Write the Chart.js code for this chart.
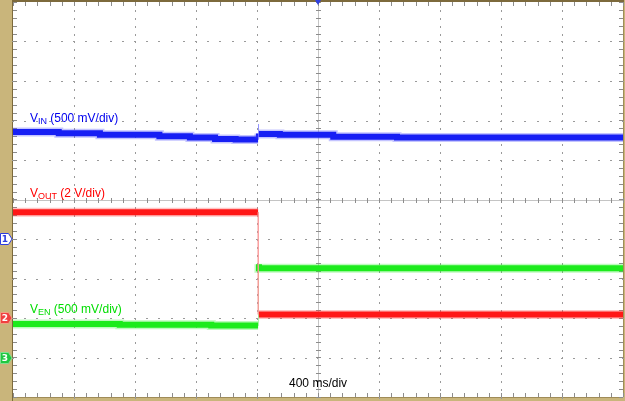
<!DOCTYPE html>
<html>
<head>
<meta charset="utf-8">
<script src="https://cdn.jsdelivr.net/npm/chart.js@4.4.1/dist/chart.umd.min.js"></script>
<style>
html,body{margin:0;padding:0;background:#fff;}
#wrap{width:625px;height:401px;position:relative;}
</style>
</head>
<body>
<div id="wrap"><canvas id="c" width="625" height="401"></canvas></div>
<script>
// Time axis in ms relative to trigger (400 ms/div, 10 divisions)
const timeTicks = [-2000,-1600,-1200,-800,-400,0,400,800,1200,1600,2000];
// Vertical position in screen divisions from centre (-5..5)
const divTicks = [-5,-4,-3,-2,-1,0,1,2,3,4,5];

// V_IN (blue), before and after the enable edge
const vinBeforeT = [-2000,-1700,-1430,-1040,-840,-675,-540,-393];
const vinBeforeV = [1.72,1.71,1.68,1.64,1.60,1.57,1.53,1.52];
const vinAfterT  = [-387,-250,100,518,930,2000];
const vinAfterV  = [1.67,1.66,1.64,1.59,1.57,1.57];
const vinEdgeT   = [-390,-390];
const vinEdgeV   = [1.51,1.91];

// V_OUT (red)
const voutBeforeT = [-2000,-393];
const voutBeforeV = [-0.32,-0.32];
const voutAfterT  = [-390,2000];
const voutAfterV  = [-2.91,-2.91];
const voutEdgeT   = [-392,-392];
const voutEdgeV   = [-0.32,-2.91];

// V_EN (green)
const venBeforeT = [-2000,-1300,-700,-500,-393];
const venBeforeV = [-3.12,-3.15,-3.17,-3.19,-3.19];
const venAfterT  = [-387,540,2000];
const venAfterV  = [-1.64,-1.74,-1.74];
const venEdgeT   = [-390,-390];
const venEdgeV   = [-3.20,-1.64];

// Channel ground markers (divisions) and trigger position (ms)
const chMarkers = [{ch:'1',div:-1},{ch:'2',div:-3},{ch:'3',div:-4}];
const triggerT = 0;

const labels = [
  {main:'V',sub:'IN',rest:' (500 mV/div)',color:'#0000ee',t:-1889,div:1.96},
  {main:'V',sub:'OUT',rest:' (2 V/div)',color:'#ff0000',t:-1889,div:0.07},
  {main:'V',sub:'EN',rest:' (500 mV/div)',color:'#00dd00',t:-1889,div:-2.88}
];
const timebaseLabel = '400 ms/div';

function pts(T,V){return T.map((t,i)=>({x:t,y:V[i]}));}

const frame = {
  id:'frame',
  beforeDraw(chart){
    const c=chart.ctx, a=chart.chartArea;
    c.save();
    c.fillStyle='#c9b57b';
    c.fillRect(0,0,chart.width,chart.height);
    c.fillStyle='#ffffff';
    c.fillRect(a.left,a.top,a.right-a.left,a.bottom-a.top);
    c.fillStyle='#7d6a3c';
    c.fillRect(a.left-1,0,1,chart.height);
    c.fillRect(a.left-1,0,a.right-a.left+2,2);
    c.fillStyle='#a08c58';
    c.fillRect(a.right,a.top,1,a.bottom-a.top);
    c.fillRect(a.left,a.bottom,a.right-a.left,1);
    c.restore();
  }
};

const grid = {
  id:'grid',
  beforeDatasetsDraw(chart){
    const c=chart.ctx, xs=chart.scales.x, ys=chart.scales.y, a=chart.chartArea;
    c.save();
    c.fillStyle='#9a9a9a';
    const xMin=timeTicks[0], xMax=timeTicks[timeTicks.length-1];
    const yMin=divTicks[0], yMax=divTicks[divTicks.length-1];
    for(const t of timeTicks){
      const px=Math.round(xs.getPixelForValue(t));
      if(t===xMin||t===xMax||t===0) continue;
      for(let d=yMin; d<=yMax+1e-6; d+=0.2){
        const py=Math.round(ys.getPixelForValue(d));
        c.fillRect(px,py,1,2);
      }
    }
    for(const d of divTicks){
      const py=Math.round(ys.getPixelForValue(d));
      if(d===yMin||d===yMax||d===0) continue;
      for(let t=xMin; t<=xMax+1e-6; t+=80){
        const px=Math.round(xs.getPixelForValue(t));
        c.fillRect(px-1,py,2,1);
      }
    }
    const cx=Math.round(xs.getPixelForValue(0)), cy=Math.round(ys.getPixelForValue(0));
    c.fillStyle='#c4c4c4';
    c.fillRect(cx,a.top,1,a.bottom-a.top);
    c.fillRect(a.left,cy,a.right-a.left,1);
    c.fillStyle='#8c8c8c';
    for(let d=yMin; d<=yMax+1e-6; d+=0.2){
      const py=Math.round(ys.getPixelForValue(d));
      c.fillRect(cx-2,py,5,1);
      c.fillRect(a.left,py,4,1);
      c.fillRect(a.right-4,py,4,1);
    }
    for(let t=xMin; t<=xMax+1e-6; t+=80){
      const px=Math.round(xs.getPixelForValue(t));
      c.fillRect(px,cy-2,1,5);
      c.fillRect(px,a.top,1,4);
      c.fillRect(px,a.bottom-4,1,4);
    }
    c.restore();
  }
};

const annot = {
  id:'annot',
  afterDatasetsDraw(chart){
    const c=chart.ctx, xs=chart.scales.x, ys=chart.scales.y, a=chart.chartArea;
    c.save();
    c.textBaseline='alphabetic';
    for(const L of labels){
      let x=xs.getPixelForValue(L.t), y=ys.getPixelForValue(L.div);
      c.fillStyle=L.color;
      c.font='12px "Liberation Sans", Arial, sans-serif';
      c.fillText(L.main,x,y); x+=c.measureText(L.main).width;
      c.font='9px "Liberation Sans", Arial, sans-serif';
      c.fillText(L.sub,x,y+2); x+=c.measureText(L.sub).width;
      c.font='12px "Liberation Sans", Arial, sans-serif';
      c.fillText(L.rest,x,y);
    }
    c.fillStyle='#000';
    c.font='12px "Liberation Sans", Arial, sans-serif';
    c.fillText(timebaseLabel, xs.getPixelForValue(-190), ys.getPixelForValue(-4.74));
    const mk={ '1':{fill:'#ffffff',stroke:'#2d3de0',text:'#2d3de0'},
               '2':{fill:'#f04040',stroke:'#f0a080',text:'#ffffff'},
               '3':{fill:'#20c840',stroke:'#80e090',text:'#ffffff'} };
    for(const m of chMarkers){
      const py=Math.round(ys.getPixelForValue(m.div)), s=mk[m.ch];
      c.beginPath();
      c.moveTo(0.5,py-5.5); c.lineTo(8.5,py-5.5); c.lineTo(12,py); c.lineTo(8.5,py+5.5); c.lineTo(0.5,py+5.5); c.closePath();
      c.fillStyle=s.fill; c.fill();
      c.strokeStyle=s.stroke; c.lineWidth=1; c.stroke();
      c.fillStyle=s.text; c.font='bold 9px "DejaVu Sans", sans-serif';
      c.textAlign='center'; c.textBaseline='middle';
      c.fillText(m.ch,5,py+0.5);
      c.textAlign='left'; c.textBaseline='alphabetic';
    }
    const tx=xs.getPixelForValue(triggerT);
    c.beginPath(); c.moveTo(tx-3,0); c.lineTo(tx+3,0); c.lineTo(tx,5); c.closePath();
    c.fillStyle='#3040e0'; c.fill();
    c.restore();
  }
};

function ds(T,V,color,w){
  return {data:pts(T,V),borderColor:color,borderWidth:w,pointRadius:0,tension:0,fill:false,stepped:false};
}
function dsStep(T,V,color,w){
  const d=ds(T,V,color,w); d.stepped='after'; return d;
}

new Chart(document.getElementById('c'),{
  type:'line',
  data:{datasets:[
    ds(voutEdgeT,voutEdgeV,'rgba(250,150,150,0.7)',1),
    ds(venEdgeT,venEdgeV,'rgba(150,240,150,0.8)',1),
    ds(vinEdgeT,vinEdgeV,'rgba(120,120,255,0.8)',1),
    dsStep(vinBeforeT,vinBeforeV,'rgba(60,60,255,0.3)',9),
    dsStep(vinAfterT,vinAfterV,'rgba(60,60,255,0.3)',9),
    dsStep(vinBeforeT,vinBeforeV,'#0814f0',6),
    dsStep(vinAfterT,vinAfterV,'#0814f0',6),
    dsStep(voutBeforeT,voutBeforeV,'rgba(255,60,60,0.3)',9),
    dsStep(voutAfterT,voutAfterV,'rgba(255,60,60,0.3)',9),
    dsStep(voutBeforeT,voutBeforeV,'#ff0808',6),
    dsStep(voutAfterT,voutAfterV,'#ff0808',6),
    dsStep(venBeforeT,venBeforeV,'rgba(40,240,40,0.3)',9),
    dsStep(venAfterT,venAfterV,'rgba(40,240,40,0.3)',9),
    dsStep(venBeforeT,venBeforeV,'#18ea18',6),
    dsStep(venAfterT,venAfterV,'#18ea18',6)
  ]},
  options:{
    responsive:false, animation:false, devicePixelRatio:1,
    layout:{padding:{left:13,right:2,top:2,bottom:4}},
    plugins:{legend:{display:false},tooltip:{enabled:false}},
    scales:{
      x:{type:'linear',min:timeTicks[0],max:timeTicks[timeTicks.length-1],display:false},
      y:{type:'linear',min:divTicks[0],max:divTicks[divTicks.length-1],display:false}
    }
  },
  plugins:[frame,grid,annot]
});
</script>
</body>
</html>
